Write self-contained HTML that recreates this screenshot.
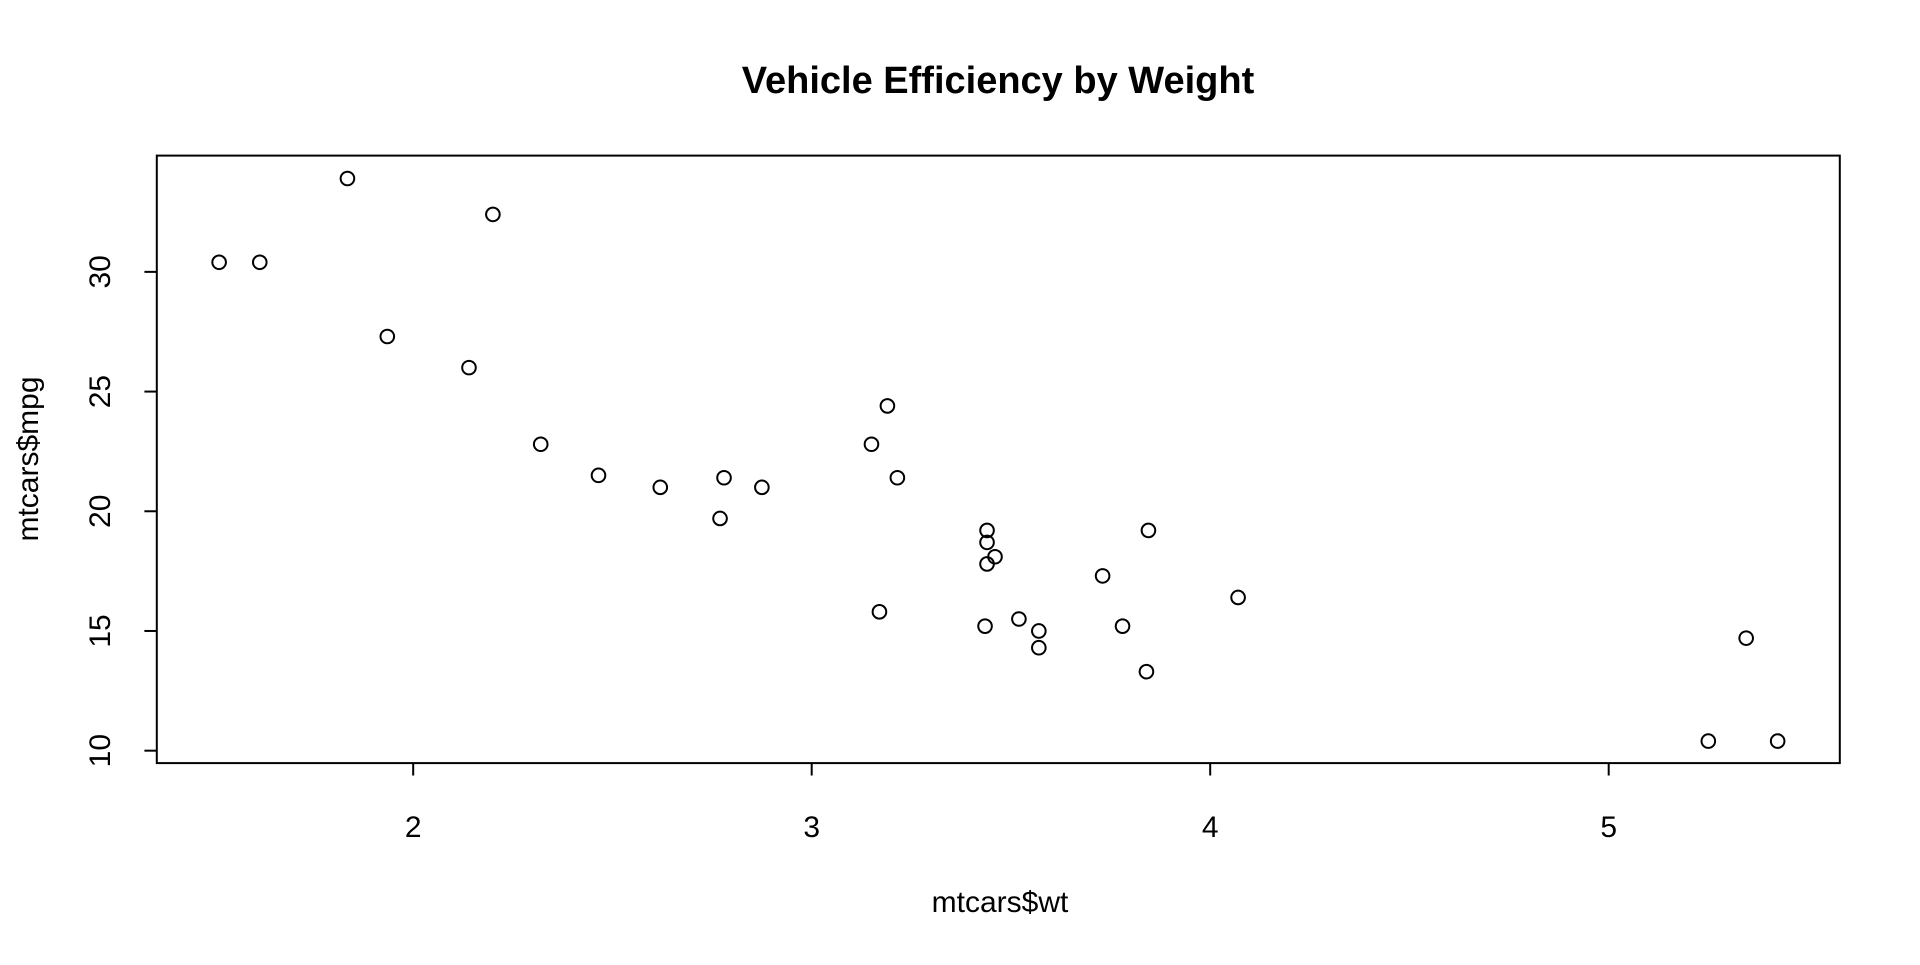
<!DOCTYPE html>
<html><head><meta charset="utf-8"><style>
html,body{margin:0;padding:0;background:#fff;}
svg text{font-family:"Liberation Sans",Arial,sans-serif;fill:#000;}
</style></head><body>
<svg id="s" width="1920" height="960" viewBox="0 0 1920 960" xmlns="http://www.w3.org/2000/svg">
<rect width="1920" height="960" fill="#fff"/>
<text x="998" y="93" font-size="38" font-weight="bold" text-anchor="middle">Vehicle Efficiency by Weight</text>
<rect x="156.8" y="155.6" width="1683" height="607.5" fill="none" stroke="#000" stroke-width="2"/>
<g id="ax" stroke="#000" stroke-width="2"></g>
<g id="lab" font-size="30"></g>
<text x="1000" y="912" font-size="30" text-anchor="middle">mtcars$wt</text>
<text transform="translate(38,459) rotate(-90)" font-size="30" text-anchor="middle">mtcars$mpg</text>
<g id="pts" fill="none" stroke="#000" stroke-width="2"></g>
</svg>
<script>
var NS="http://www.w3.org/2000/svg";
function X(v){return 156.8+(v-1.3566)*398.5;}
function Y(v){return 763.6-(v-9.46)*23.94;}
function el(t,a,p,txt){var e=document.createElementNS(NS,t);for(var k in a)e.setAttribute(k,a[k]);if(txt)e.textContent=txt;document.getElementById(p).appendChild(e);}
[2,3,4,5].forEach(function(v){var x=X(v);el("line",{x1:x,x2:x,y1:763.1,y2:775.5},"ax");el("text",{x:x,y:837,"text-anchor":"middle"},"lab",String(v));});
[10,15,20,25,30].forEach(function(v){var y=Y(v);el("line",{x1:144.4,x2:156.8,y1:y,y2:y},"ax");el("text",{transform:"translate(110,"+y+") rotate(-90)","text-anchor":"middle"},"lab",String(v));});
var d=[[21.0,2.620],[21.0,2.875],[22.8,2.320],[21.4,3.215],[18.7,3.440],[18.1,3.460],[14.3,3.570],[24.4,3.190],[22.8,3.150],[19.2,3.440],[17.8,3.440],[16.4,4.070],[17.3,3.730],[15.2,3.780],[10.4,5.250],[10.4,5.424],[14.7,5.345],[32.4,2.200],[30.4,1.615],[33.9,1.835],[21.5,2.465],[15.5,3.520],[15.2,3.435],[13.3,3.840],[19.2,3.845],[27.3,1.935],[26.0,2.140],[30.4,1.513],[15.8,3.170],[19.7,2.770],[15.0,3.570],[21.4,2.780]];
d.forEach(function(p){el("circle",{cx:X(p[1]),cy:Y(p[0]),r:6.8},"pts");});
</script>
</body></html>
